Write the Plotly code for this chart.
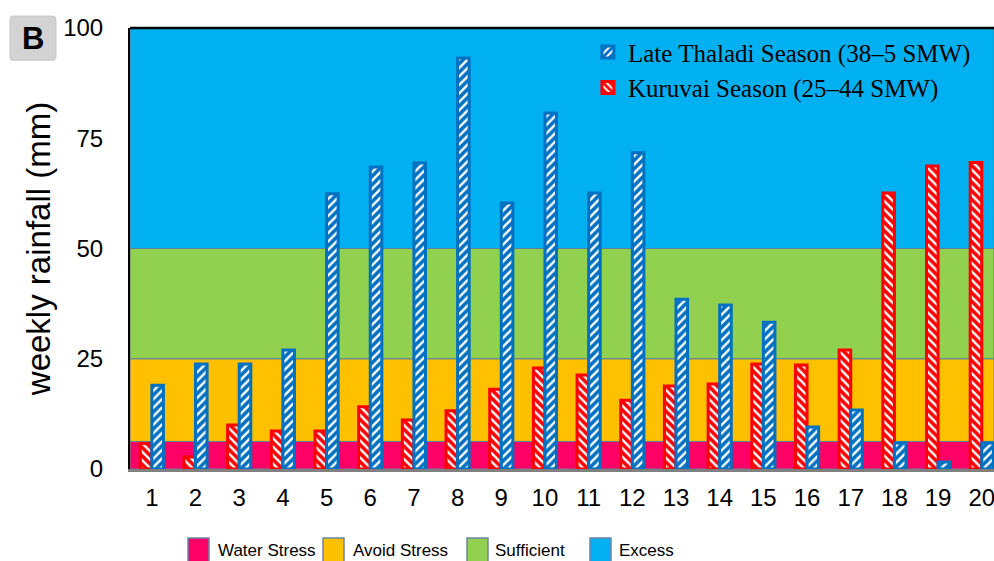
import plotly.graph_objects as go

# Standard meteorological week index (1..20) for both seasons
weeks = list(range(1, 21))
week_labels = [str(w) for w in weeks]

# Weekly rainfall (mm)
kuruvai = [5.8, 2.7, 10.0, 8.6, 8.6, 14.1, 11.1, 13.2, 18.1, 22.9,
           21.3, 15.6, 18.8, 19.3, 23.8, 23.6, 27.0, 62.6, 68.7, 69.5]
late_thaladi = [19.0, 23.8, 23.8, 27.0, 62.4, 68.5, 69.4, 93.2, 60.3, 80.7,
                62.6, 71.7, 38.5, 37.2, 33.3, 9.5, 13.4, 5.9, 1.6, 5.9]

# Rainfall adequacy zones (lower, upper bounds in mm)
zone_names = ["Water Stress", "Avoid Stress", "Sufficient", "Excess"]
zone_bounds = [0, 6.25, 25, 50, 100]
zone_colors = ["#FF0066", "#FFC000", "#92D050", "#00B0F0"]

RED = "#FF0000"
BLUE = "#0070C0"

fig = go.Figure()

fig.add_trace(go.Bar(
    x=weeks, y=kuruvai, name="Kuruvai Season (25\u201344 SMW)",
    marker=dict(color="white", line=dict(color=RED, width=3),
                pattern=dict(shape="\\", fgcolor=RED, bgcolor="white", fgopacity=1,
                             size=6, solidity=0.6, fillmode="overlay")),
))
fig.add_trace(go.Bar(
    x=weeks, y=late_thaladi, name="Late Thaladi Season (38\u20135 SMW)",
    marker=dict(color="white", line=dict(color=BLUE, width=3),
                pattern=dict(shape="/", fgcolor=BLUE, bgcolor="white", fgopacity=1,
                             size=6, solidity=0.6, fillmode="overlay")),
))

# Background zones
shapes = []
for i in range(len(zone_names)):
    shapes.append(dict(type="rect", xref="paper", yref="y", layer="below",
                       x0=0, x1=1, y0=zone_bounds[i], y1=zone_bounds[i + 1],
                       fillcolor=zone_colors[i],
                       line=dict(color="#5B7F9E", width=1)))
# Top frame line
shapes.append(dict(type="line", xref="paper", yref="paper", x0=0, x1=1,
                   y0=1, y1=1, line=dict(color="black", width=2.5)))

# Panel tag box
shapes.append(dict(type="path", xref="paper", yref="paper",
                   path="M -0.1365,1.027 L -0.09,1.027 Q -0.0857,1.027 -0.0857,1.018 "
                        "L -0.0857,0.937 Q -0.0857,0.927 -0.09,0.927 L -0.1365,0.927 "
                        "Q -0.1389,0.927 -0.1389,0.937 L -0.1389,1.018 "
                        "Q -0.1389,1.027 -0.1365,1.027 Z",
                   fillcolor="#D3D3D3", line=dict(color="#C4C4C4", width=1)))

annotations = [dict(text="<b>B</b>", xref="paper", yref="paper",
                    x=-0.1128, y=0.977, xanchor="center", yanchor="middle",
                    showarrow=False,
                    font=dict(family="Liberation Sans, Arial", size=31, color="black"))]

# Zone key along the bottom
PX = 864.0
PY = 441.0
key_swatch_x = [188, 323, 467, 590]
key_text_x = [216, 351, 493, 617]
for i, name in enumerate(zone_names):
    x0 = (key_swatch_x[i] - 130) / PX
    x1 = (key_swatch_x[i] + 21 - 130) / PX
    shapes.append(dict(type="rect", xref="paper", yref="paper",
                       x0=x0, x1=x1, y0=(469 - 538) / PY, y1=(469 - 562) / PY,
                       fillcolor=zone_colors[i],
                       line=dict(color="#6A87A6", width=1.5)))
    annotations.append(dict(text=name, xref="paper", yref="paper",
                            x=(key_text_x[i] - 130) / PX, y=(469 - 550) / PY,
                            xanchor="left", yanchor="middle", showarrow=False,
                            font=dict(family="Liberation Sans, Arial", size=17,
                                      color="black")))

fig.update_layout(
    width=994, height=561,
    margin=dict(l=130, r=0, t=28, b=92),
    paper_bgcolor="white", plot_bgcolor="white",
    barmode="group", bargap=0.47, bargroupgap=0,
    shapes=shapes, annotations=annotations,
    legend=dict(x=0.53, y=0.997, xanchor="left", yanchor="top",
                traceorder="reversed", bgcolor="rgba(0,0,0,0)",
                font=dict(family="Liberation Serif, Times New Roman", size=25,
                          color="black"),
                tracegroupgap=0, itemwidth=30),
    xaxis=dict(range=[0.5, 20.28], tickmode="array", tickvals=weeks,
               ticktext=week_labels, showgrid=False, zeroline=False,
               showline=True, linecolor="#808080", linewidth=3,
               ticks="", ticklabelstandoff=5, ticklabeloverflow="allow",
               tickfont=dict(family="Liberation Sans, Arial", size=24, color="black")),
    yaxis=dict(range=[0, 100], tickvals=[0, 25, 50, 75, 100], showgrid=False,
               zeroline=False, showline=True, linecolor="black", linewidth=2,
               ticks="", ticklabelstandoff=20,
               tickfont=dict(family="Liberation Sans, Arial", size=24, color="black"),
               title=dict(text="weekly rainfall (mm)", standoff=3,
                          font=dict(family="Liberation Sans, Arial",
                                    size=33, color="black"))),
)

fig.write_html("out.html")
